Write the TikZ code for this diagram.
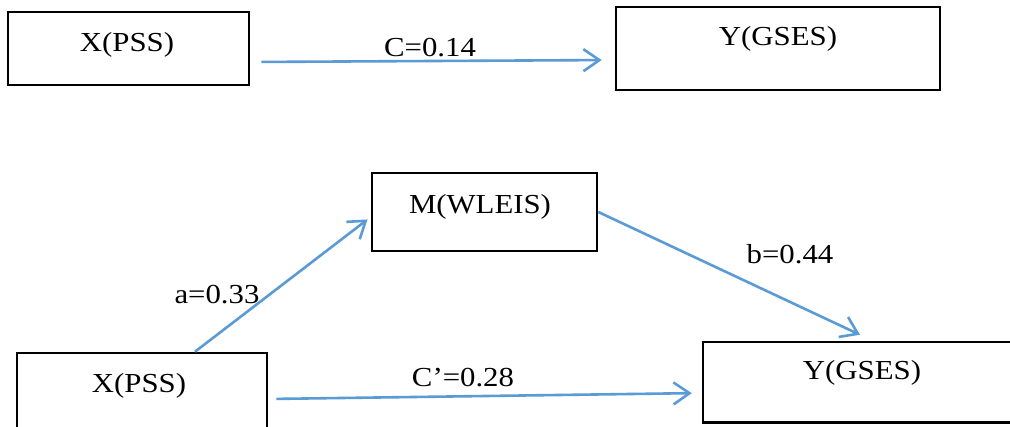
\documentclass[tikz,border=0pt]{standalone}
\usepackage{fontspec}
\setmainfont{Liberation Serif}[FakeStretch=1.12]
\usetikzlibrary{arrows.meta}
\definecolor{arrblue}{HTML}{5B9BD5}
\tikzset{
  box/.style={draw=black, line width=2.6pt, rectangle, inner sep=0pt},
  openbox/.style={draw=none, rectangle, inner sep=0pt},
  boxline/.style={draw=black, line width=2.6pt},
  lbl/.style={inner sep=0pt, font=\fontsize{27.5}{33}\selectfont},
  arr/.style={draw=arrblue, line width=2.6pt, -{Straight Barb[length=16pt,width=22pt]}},
}
\begin{document}
\begin{tikzpicture}[x=1pt,y=-1pt]
\path[use as bounding box, fill=white] (0,0) rectangle (1010,426);
\begin{scope}
\clip (0,0) rectangle (1010,426);
% top model
\node[box, minimum width=241pt, minimum height=73pt] (x1) at (128.5,48.5) {};
\node[box, minimum width=324pt, minimum height=83pt] (y1) at (778,48.5) {};
\node[lbl] (x1t) at (127,45) {X(PSS)};
\node[lbl] (y1t) at (778,39) {Y(GSES)};
\draw[arr, shorten <=11pt, shorten >=13pt] ([yshift=-13.5pt]x1.east) -- ([yshift=-11.5pt]y1.west);
\node[lbl] (c) at (430,47.5) {C=0.14};
% mediation model
\node[box, minimum width=225pt, minimum height=78pt] (m) at (484.5,212) {};
\node[box, minimum width=250pt, minimum height=87pt] (x2) at (142,396.5) {};
\node[openbox, minimum width=307pt, minimum height=80pt] (y2) at (856.5,382) {};
\draw[boxline] (y2.north east) -- (y2.north west) -- (y2.south west) -- (y2.south east);
\node[lbl] (mt) at (480,207) {M(WLEIS)};
\node[lbl] (x2t) at (139,386) {X(PSS)};
\node[lbl] (y2t) at (862,373) {Y(GSES)};
\draw[arr, shorten >=4pt] ([xshift=53pt]x2.north) -- ([yshift=-5pt]m.west);
\draw[arr, shorten >=16.6pt] (m.east) -- ([xshift=18.5pt]y2.north);
\draw[arr, shorten <=8pt, shorten >=11pt] ([yshift=-2.5pt]x2.east) -- ([yshift=-11pt]y2.west);
\node[lbl] (a) at (217,295) {a=0.33};
\node[lbl] (b) at (790,254) {b=0.44};
\node[lbl] (cp) at (463,378) {C’=0.28};
\end{scope}
\end{tikzpicture}
\end{document}
